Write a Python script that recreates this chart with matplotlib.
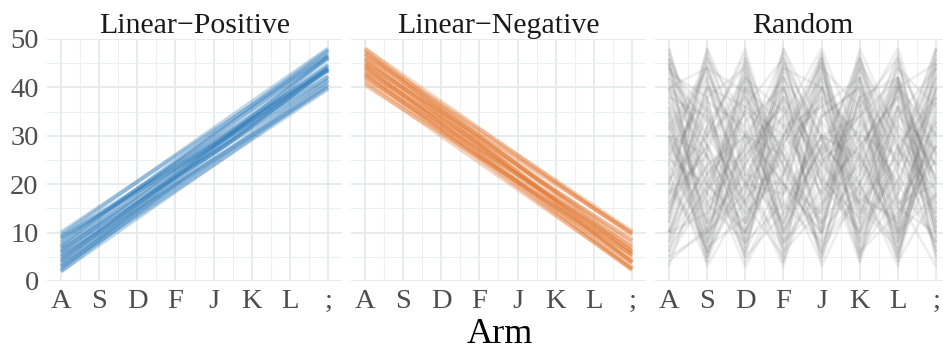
import matplotlib
matplotlib.use("Agg")
import matplotlib.pyplot as plt

arms = ['A', 'S', 'D', 'F', 'J', 'K', 'L', ';']
panel_titles = ['Linear\u2212Positive', 'Linear\u2212Negative', 'Random']

# one row per agent, one value per arm
positive = [
    [2, 7.5, 13, 18.5, 24, 29.5, 35, 40.5],
    [3, 8.5, 14, 19.5, 25, 30.5, 36, 41.5],
    [4, 9.25, 14.5, 19.75, 25, 30.25, 35.5, 40.75],
    [5, 10.5, 16, 21.5, 27, 32.5, 38, 43.5],
    [6, 11.75, 17.5, 23.25, 29, 34.75, 40.5, 46.25],
    [7, 12.25, 17.5, 22.75, 28, 33.25, 38.5, 43.75],
    [8, 13.5, 19, 24.5, 30, 35.5, 41, 46.5],
    [9, 14, 19, 24, 29, 34, 39, 44],
    [10, 15.25, 20.5, 25.75, 31, 36.25, 41.5, 46.75],
    [4.5, 10.25, 16, 21.75, 27.5, 33.25, 39, 44.75],
    [2.5, 8.75, 15, 21.25, 27.5, 33.75, 40, 46.25],
    [9.5, 15, 20.5, 26, 31.5, 37, 42.5, 48],
    [6.5, 11.5, 16.5, 21.5, 26.5, 31.5, 36.5, 41.5],
    [3.5, 9.25, 15, 20.75, 26.5, 32.25, 38, 43.75],
    [5.5, 10.75, 16, 21.25, 26.5, 31.75, 37, 42.25],
    [7.5, 13.25, 19, 24.75, 30.5, 36.25, 42, 47.75],
    [8.5, 13.5, 18.5, 23.5, 28.5, 33.5, 38.5, 43.5],
    [2, 8, 14, 20, 26, 32, 38, 44],
    [6, 11.5, 17, 22.5, 28, 33.5, 39, 44.5],
    [4, 10, 16, 22, 28, 34, 40, 46],
    [9, 13.75, 18.5, 23.25, 28, 32.75, 37.5, 42.25],
    [3, 8.25, 13.5, 18.75, 24, 29.25, 34.5, 39.75],
    [7, 12.75, 18.5, 24.25, 30, 35.75, 41.5, 47.25],
    [5, 10, 15, 20, 25, 30, 35, 40],
]

negative = [
    [48, 42.5, 37, 31.5, 26, 20.5, 15, 9.5],
    [47, 41.25, 35.5, 29.75, 24, 18.25, 12.5, 6.75],
    [46, 40, 34, 28, 22, 16, 10, 4],
    [45, 39.75, 34.5, 29.25, 24, 18.75, 13.5, 8.25],
    [44, 38.5, 33, 27.5, 22, 16.5, 11, 5.5],
    [43, 37.25, 31.5, 25.75, 20, 14.25, 8.5, 2.75],
    [42, 37, 32, 27, 22, 17, 12, 7],
    [41, 35.5, 30, 24.5, 19, 13.5, 8, 2.5],
    [40.5, 35.5, 30.5, 25.5, 20.5, 15.5, 10.5, 5.5],
    [47.5, 41.25, 35, 28.75, 22.5, 16.25, 10, 3.75],
    [46.5, 41.25, 36, 30.75, 25.5, 20.25, 15, 9.75],
    [45.5, 39.75, 34, 28.25, 22.5, 16.75, 11, 5.25],
    [44.5, 38.5, 32.5, 26.5, 20.5, 14.5, 8.5, 2.5],
    [43.5, 38.5, 33.5, 28.5, 23.5, 18.5, 13.5, 8.5],
    [42.5, 37, 31.5, 26, 20.5, 15, 9.5, 4],
    [41.5, 36.25, 31, 25.75, 20.5, 15.25, 10, 4.75],
    [48, 42, 36, 30, 24, 18, 12, 6],
    [45, 40, 35, 30, 25, 20, 15, 10],
    [44, 38.25, 32.5, 26.75, 21, 15.25, 9.5, 3.75],
    [46, 40.5, 35, 29.5, 24, 18.5, 13, 7.5],
    [43, 37.75, 32.5, 27.25, 22, 16.75, 11.5, 6.25],
    [42.5, 36.75, 31, 25.25, 19.5, 13.75, 8, 2.25],
    [47, 41.75, 36.5, 31.25, 26, 20.75, 15.5, 10.25],
    [44.5, 39, 33.5, 28, 22.5, 17, 11.5, 6],
]

random_arms = [
    [30, 5, 25, 40, 12, 33, 8, 45],
    [46, 20, 35, 10, 28, 44, 15, 30],
    [10, 38, 6, 22, 47, 18, 40, 12],
    [25, 47, 15, 33, 5, 27, 42, 20],
    [38, 12, 44, 18, 30, 8, 25, 48],
    [15, 28, 9, 45, 20, 38, 5, 35],
    [42, 33, 20, 7, 40, 14, 30, 22],
    [5, 18, 40, 26, 11, 46, 22, 8],
    [33, 8, 28, 47, 16, 24, 41, 14],
    [20, 45, 12, 30, 38, 6, 18, 40],
    [47, 25, 5, 14, 27, 35, 10, 28],
    [12, 40, 30, 20, 4, 30, 45, 17],
    [28, 15, 46, 9, 35, 20, 3, 38],
    [40, 30, 18, 42, 22, 10, 36, 6],
    [8, 22, 35, 28, 45, 16, 26, 44],
    [35, 4, 24, 38, 10, 42, 14, 25],
    [18, 36, 8, 16, 30, 25, 47, 10],
    [45, 10, 38, 24, 6, 33, 20, 42],
    [22, 42, 16, 5, 41, 12, 34, 27],
    [3, 27, 42, 35, 18, 40, 9, 33],
    [36, 20, 12, 44, 26, 4, 28, 15],
    [14, 46, 28, 12, 33, 22, 41, 5],
    [27, 6, 20, 30, 47, 15, 7, 36],
    [44, 35, 4, 20, 14, 38, 24, 46],
    [10, 14, 33, 40, 24, 47, 16, 20],
    [31, 43, 26, 8, 19, 28, 38, 11],
    [48, 18, 10, 27, 37, 9, 32, 24],
    [6, 32, 45, 16, 8, 26, 44, 30],
    [24, 9, 36, 46, 29, 18, 12, 40],
    [39, 26, 14, 22, 44, 36, 4, 18],
    [17, 48, 22, 34, 12, 44, 28, 7],
    [29, 12, 41, 4, 25, 31, 19, 47],
    [43, 38, 7, 30, 21, 13, 46, 26],
    [9, 24, 30, 42, 3, 20, 36, 13],
    [34, 3, 17, 25, 40, 29, 11, 43],
    [21, 30, 47, 13, 28, 5, 39, 21],
    [46, 16, 26, 37, 9, 42, 17, 3],
    [13, 41, 19, 48, 32, 11, 24, 37],
    [37, 22, 3, 18, 43, 26, 8, 29],
    [26, 37, 32, 6, 15, 45, 31, 16],
    [4, 11, 24, 38, 26, 34, 48, 23],
    [41, 28, 43, 23, 7, 17, 13, 34],
    [19, 7, 13, 29, 36, 23, 42, 9],
    [32, 44, 39, 11, 46, 7, 21, 39],
    [7, 19, 27, 43, 17, 37, 6, 31],
    [30, 26, 8, 36, 24, 16, 40, 45],
    [45, 5, 31, 20, 42, 25, 15, 10],
    [16, 34, 21, 3, 34, 40, 27, 19],
    [40, 10, 20, 45, 30, 5, 36, 12],
    [10, 30, 48, 20, 10, 38, 42, 26],
    [30, 42, 10, 28, 46, 20, 5, 41],
    [22, 4, 40, 10, 38, 30, 26, 48],
    [44, 28, 16, 40, 20, 46, 10, 18],
    [12, 48, 30, 26, 8, 18, 34, 44],
    [35, 16, 8, 30, 45, 12, 41, 20],
    [27, 38, 44, 6, 24, 34, 20, 8],
    [48, 22, 30, 15, 30, 26, 9, 32],
    [5, 10, 36, 22, 40, 8, 28, 38],
    [18, 26, 6, 40, 14, 48, 30, 10],
    [40, 44, 22, 12, 28, 20, 42, 4],
    [30, 18, 42, 26, 5, 39, 16, 28],
    [8, 36, 14, 46, 20, 10, 23, 42],
    [20, 8, 26, 34, 48, 28, 38, 16],
    [46, 30, 38, 8, 16, 30, 6, 26],
    [25, 20, 10, 32, 36, 42, 12, 48],
    [14, 40, 20, 18, 46, 4, 33, 11],
    [36, 6, 46, 24, 12, 22, 44, 36],
    [10, 24, 5, 42, 30, 16, 8, 28],
    [42, 14, 28, 36, 10, 44, 24, 14],
    [20, 46, 34, 10, 26, 10, 40, 21],
    [30, 10, 18, 44, 40, 24, 10, 40],
    [38, 34, 12, 28, 6, 36, 46, 8],
    [6, 20, 42, 14, 34, 40, 18, 33],
    [28, 44, 24, 4, 44, 14, 36, 24],
    [45, 8, 40, 32, 18, 28, 4, 45],
    [16, 28, 10, 48, 26, 46, 28, 6],
    [40, 12, 22, 20, 10, 20, 40, 30],
    [24, 40, 36, 30, 42, 6, 14, 38],
    [32, 6, 30, 8, 30, 34, 42, 18],
    [10, 32, 16, 38, 22, 42, 10, 46],
]

plt.rcParams['font.family'] = ['Liberation Serif', 'DejaVu Serif']

fig = plt.figure(figsize=(9.43, 3.5), dpi=100)

panels = [
    (positive, '#2a79b9', 0.30, 3.0),
    (negative, '#e3742c', 0.30, 3.0),
    (random_arms, '#777777', 0.12, 2.0),
]

x = list(range(len(arms)))
left0 = 47 / 943
w = 295 / 943
gap = 9 / 943
bottom = 1 - 281 / 350
h = (281 - 39) / 350

for i, (series, color, alpha, lw) in enumerate(panels):
    ax = fig.add_axes([left0 + i * (w + gap), bottom, w, h])
    for row in series:
        ax.plot(x, row, color=color, alpha=alpha, lw=lw, solid_capstyle='butt')
    ax.set_xlim(-0.365, 7.365)
    ax.set_ylim(0, 50)
    ax.set_xticks(x)
    ax.set_xticklabels(arms)
    ax.set_xticks([v + 0.5 for v in x[:-1]], minor=True)
    ax.set_yticks([0, 10, 20, 30, 40, 50])
    ax.set_yticks([5, 15, 25, 35, 45], minor=True)
    ax.grid(which='major', color='#e6e9e9', lw=1.3)
    ax.grid(which='minor', color='#eef0f0', lw=0.8)
    ax.set_axisbelow(True)
    for s in ax.spines.values():
        s.set_visible(False)
    ax.tick_params(which='both', length=0)
    ax.tick_params(axis='x', labelsize=20.5, colors='#4d4d4d', pad=6)
    ax.tick_params(axis='y', labelsize=20.5, colors='#4d4d4d', pad=6)
    if i > 0:
        ax.set_yticklabels([])
    ax.set_title(panel_titles[i], fontsize=21.5, color='#1a1a1a', pad=1.5)

fig.text(500 / 943, 1 - 343 / 350, 'Arm', ha='center', va='baseline',
         fontsize=26, color='#000000')

fig.savefig('out.png', dpi=100)
